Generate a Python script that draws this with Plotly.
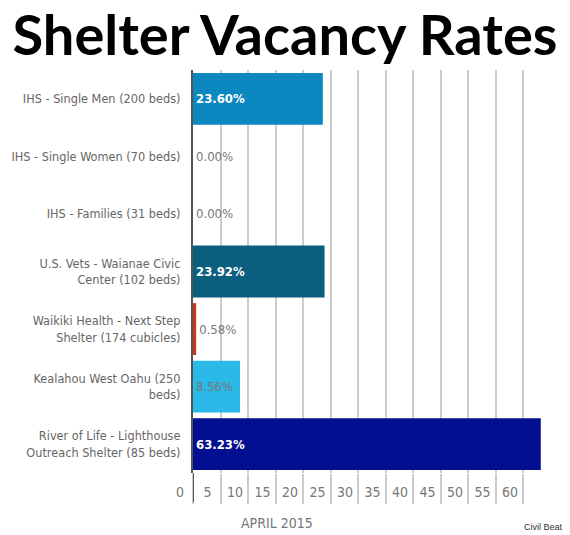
import plotly.graph_objects as go

shelters = [
    "IHS - Single Men (200 beds)",
    "IHS - Single Women (70 beds)",
    "IHS - Families (31 beds)",
    "U.S. Vets - Waianae Civic<br>Center (102 beds)",
    "Waikiki Health - Next Step<br>Shelter (174 cubicles)",
    "Kealahou West Oahu (250<br>beds)",
    "River of Life - Lighthouse<br>Outreach Shelter (85 beds)",
]
vacancy_rates = [23.60, 0.00, 0.00, 23.92, 0.58, 8.56, 63.23]
bar_colors = ["#0a88bf", "#0a88bf", "#0a88bf", "#0b5e7e", "#c8391e", "#2bb9e8", "#020f91"]
text_colors = ["#ffffff", "#777777", "#777777", "#ffffff", "#777777", "#777777", "#ffffff"]
text_positions = ["inside", "outside", "outside", "inside", "outside", "inside", "inside"]
x_ticks = [0, 5, 10, 15, 20, 25, 30, 35, 40, 45, 50, 55, 60]
period_label = "APRIL 2015"
chart_title = "Shelter Vacancy Rates"
source_label = "Civil Beat"

NARROW = "DejaVu Sans Condensed, Roboto, sans-serif"

bar_texts = [
    (f"<b>{v:.2f}%</b>" if c == "#ffffff" else f"{v:.2f}%")
    for v, c in zip(vacancy_rates, text_colors)
]

fig = go.Figure(
    go.Bar(
        x=vacancy_rates,
        y=shelters,
        orientation="h",
        marker=dict(color=bar_colors, line=dict(width=0)),
        text=bar_texts,
        textposition=text_positions,
        insidetextanchor="start",
        textangle=0,
        textfont=dict(color=text_colors, size=13, family=NARROW),
        constraintext="none",
        cliponaxis=False,
        hoverinfo="skip",
    )
)

fig.update_layout(
    width=570,
    height=535,
    margin=dict(l=193, r=25, t=70, b=62, autoexpand=False),
    paper_bgcolor="white",
    plot_bgcolor="white",
    bargap=0.1,
    showlegend=False,
    title=dict(
        text=f"<b>{chart_title}</b>",
        font=dict(family="Lato, Roboto, sans-serif", size=56, color="#000000"),
        x=0.5,
        xanchor="center",
        xref="container",
        y=0.934,
        yanchor="middle",
        yref="container",
        automargin=False,
    ),
    xaxis=dict(
        range=[0, 64],
        tickvals=x_ticks,
        ticktext=[str(t) for t in x_ticks],
        showgrid=True,
        gridcolor="#cccccc",
        gridwidth=1.5,
        zeroline=False,
        showline=False,
        ticks="outside",
        ticklen=30,
        tickcolor="#cccccc",
        tickwidth=1.5,
        ticklabelshift=-13,
        ticklabelstandoff=-24,
        tickfont=dict(family=NARROW, size=14, color="#777777"),
        automargin=False,
        fixedrange=True,
    ),
    yaxis=dict(
        autorange="reversed",
        showgrid=False,
        zeroline=False,
        showline=True,
        linecolor="#555555",
        linewidth=2,
        ticks="",
        ticklabelstandoff=8,
        tickfont=dict(family=NARROW, size=12.6, color="#666666"),
        automargin=False,
        fixedrange=True,
    ),
    annotations=[
        dict(
            text=period_label,
            xref="paper", yref="paper",
            x=0.24, y=-0.124,
            xanchor="center", yanchor="middle",
            showarrow=False,
            font=dict(family=NARROW, size=14, color="#777777"),
        ),
        dict(
            text=source_label,
            xref="paper", yref="paper",
            x=1.057, y=-0.134,
            xanchor="right", yanchor="middle",
            showarrow=False,
            font=dict(family="Liberation Sans, Arial, sans-serif", size=9, color="#333333"),
        ),
    ],
    shapes=[
        dict(
            type="line", xref="x", yref="paper",
            x0=0, x1=0, y0=0, y1=-0.072,
            line=dict(color="#555555", width=2),
        )
    ],
)

fig.write_html(
    "out.html",
    config={"displayModeBar": False},
    post_script="document.body.style.margin='0';",
)
